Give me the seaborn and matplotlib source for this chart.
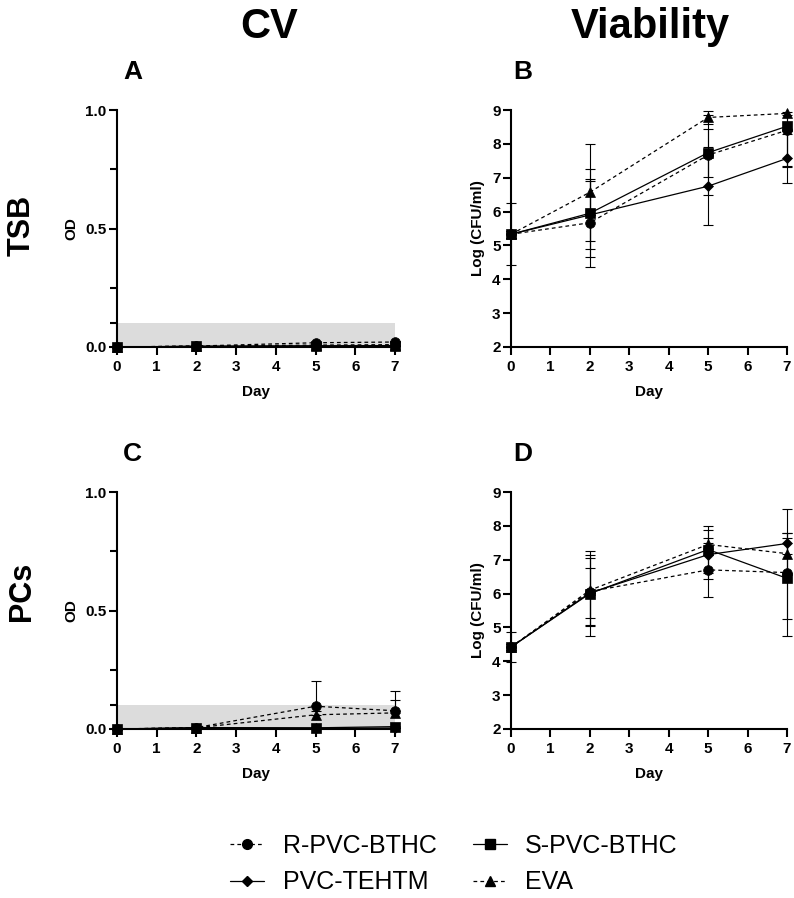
import numpy as np
import pandas as pd
import matplotlib.pyplot as plt
import matplotlib.ticker as plticker
from matplotlib.lines import Line2D
from matplotlib.patches import Rectangle
import seaborn as sns

days = [0, 2, 5, 7]
materials = ["R-PVC-BTHC", "S-PVC-BTHC", "PVC-TEHTM", "EVA"]

# A: TSB, crystal violet (OD)
tsb_cv_mean = {"R-PVC-BTHC": [0.0, 0.004, 0.018, 0.021],
               "S-PVC-BTHC": [0.0, 0.003, 0.004, 0.004],
               "PVC-TEHTM": [0.0, 0.003, 0.005, 0.006],
               "EVA": [0.0, 0.004, 0.008, 0.010]}
tsb_cv_sd = {"R-PVC-BTHC": [0.0, 0.002, 0.004, 0.005],
             "S-PVC-BTHC": [0.0, 0.002, 0.002, 0.002],
             "PVC-TEHTM": [0.0, 0.002, 0.002, 0.002],
             "EVA": [0.0, 0.002, 0.003, 0.003]}

# B: TSB, viability log(CFU/ml)
tsb_via_mean = {"R-PVC-BTHC": [5.33, 5.67, 7.67, 8.40],
                "S-PVC-BTHC": [5.33, 5.95, 7.74, 8.52],
                "PVC-TEHTM": [5.33, 5.90, 6.75, 7.57],
                "EVA": [5.33, 6.57, 8.78, 8.90]}
tsb_via_sd = {"R-PVC-BTHC": [0.10, 1.30, 1.17, 1.05],
              "S-PVC-BTHC": [0.92, 1.30, 0.71, 1.20],
              "PVC-TEHTM": [0.10, 1.00, 1.15, 0.72],
              "EVA": [0.10, 1.43, 0.20, 0.05]}

# C: PCs, crystal violet (OD)
pcs_cv_mean = {"R-PVC-BTHC": [0.0, 0.006, 0.096, 0.077],
               "S-PVC-BTHC": [0.0, 0.006, 0.005, 0.010],
               "PVC-TEHTM": [0.0, 0.004, 0.003, 0.004],
               "EVA": [0.0, 0.005, 0.060, 0.068]}
pcs_cv_sd = {"R-PVC-BTHC": [0.0, 0.003, 0.106, 0.083],
             "S-PVC-BTHC": [0.0, 0.002, 0.003, 0.004],
             "PVC-TEHTM": [0.0, 0.002, 0.002, 0.002],
             "EVA": [0.0, 0.002, 0.015, 0.055]}

# D: PCs, viability log(CFU/ml)
pcs_via_mean = {"R-PVC-BTHC": [4.42, 6.06, 6.70, 6.62],
                "S-PVC-BTHC": [4.42, 6.00, 7.30, 6.45],
                "PVC-TEHTM": [4.42, 6.02, 7.15, 7.48],
                "EVA": [4.42, 6.10, 7.45, 7.18]}
pcs_via_sd = {"R-PVC-BTHC": [0.10, 1.00, 0.80, 1.88],
              "S-PVC-BTHC": [0.44, 1.25, 0.70, 1.20],
              "PVC-TEHTM": [0.10, 0.75, 0.72, 0.32],
              "EVA": [0.10, 1.05, 0.20, 0.62]}

panels = {"A": (tsb_cv_mean, tsb_cv_sd), "B": (tsb_via_mean, tsb_via_sd),
          "C": (pcs_cv_mean, pcs_cv_sd), "D": (pcs_via_mean, pcs_via_sd)}

rows = []
for panel, (means, sds) in panels.items():
    for mat in materials:
        for d, m, s in zip(days, means[mat], sds[mat]):
            rows.append({"panel": panel, "material": mat, "day": d, "mean": m, "sd": s})
df = pd.DataFrame(rows)

dashed = (0, (3, 2.5))
styles = {
    "R-PVC-BTHC": dict(marker="o", markersize=7, linestyle=dashed),
    "S-PVC-BTHC": dict(marker="s", markersize=7, linestyle="-"),
    "PVC-TEHTM": dict(marker="D", markersize=5.5, linestyle="-"),
    "EVA": dict(marker="^", markersize=7, linestyle=dashed),
}

sns.set_theme(style="ticks")
plt.rcParams["font.family"] = ["Liberation Sans", "DejaVu Sans"]
plt.rcParams["font.weight"] = "bold"
plt.rcParams["axes.labelweight"] = "bold"
for key in ["text.color", "axes.labelcolor", "xtick.color", "ytick.color", "axes.edgecolor"]:
    plt.rcParams[key] = "black"

fig = plt.figure(figsize=(7.94, 8.98), dpi=100)

W, H = 794, 898


def add_ax(left, right, top, bottom):
    return fig.add_axes([left / W, 1 - bottom / H, (right - left) / W, (bottom - top) / H])


def plot_panel(ax, panel, is_cv):
    data = df[df["panel"] == panel]
    if is_cv:
        ax.axhspan(0, 0.1, color="#dcdcdc", lw=0, zorder=0)
    # error bars may poke out sideways at day 0 / 7, but not above the top
    clip = Rectangle((-0.1, -0.1), 1.2, 1.1, transform=ax.transAxes, visible=False)
    ax.add_patch(clip)
    for mat in materials:
        sub = data[data["material"] == mat]
        yerr = [np.zeros(len(sub)), sub["sd"].values] if is_cv else sub["sd"].values
        eb = ax.errorbar(sub["day"], sub["mean"], yerr=yerr, fmt="none", ecolor="black",
                         elinewidth=0.8, capsize=3.6, capthick=0.8, zorder=2)
        for art in eb.get_children():
            art.set_clip_path(clip)
        sns.lineplot(data=sub, x="day", y="mean", ax=ax, color="black", lw=0.9,
                     markeredgecolor="black", markeredgewidth=0.5, legend=False,
                     clip_on=False, zorder=3, **styles[mat])

    ax.set_xlim(0, 7)
    ax.set_xticks(range(8))
    if is_cv:
        ax.set_ylim(0, 1)
        ax.set_yticks([0, 0.5, 1.0])
        ax.yaxis.set_major_formatter(plticker.FormatStrFormatter("%.1f"))
        ax.yaxis.set_minor_locator(plticker.FixedLocator([0.1, 0.25, 0.75]))
        ax.set_ylabel("OD", fontsize=11, labelpad=5)
    else:
        ax.set_ylim(2, 9)
        ax.set_yticks(range(2, 10))
        ax.set_ylabel("Log (CFU/ml)", fontsize=11, labelpad=5)
    ax.set_xlabel("Day", fontsize=11, labelpad=8)
    for side in ["top", "right"]:
        ax.spines[side].set_visible(False)
    for side in ["left", "bottom"]:
        ax.spines[side].set_linewidth(1.5)
        ax.spines[side].set_color("black")
    ax.tick_params(which="major", width=1.5, length=5.5, labelsize=11, pad=2, color="black")
    ax.tick_params(axis="x", which="major", pad=4)
    ax.tick_params(which="minor", width=1.5, length=5, color="black")
    for lbl in ax.get_xticklabels() + ax.get_yticklabels():
        lbl.set_fontweight("bold")


axA = add_ax(117, 395, 110, 347)
axB = add_ax(511, 787, 110, 347)
axC = add_ax(117, 395, 492, 729)
axD = add_ax(511, 787, 492, 729)

plot_panel(axA, "A", True)
plot_panel(axB, "B", False)
plot_panel(axC, "C", True)
plot_panel(axD, "D", False)

# panel letters
for txt, x, y in [("A", 123, 72), ("B", 513, 72), ("C", 123, 454), ("D", 513, 454)]:
    fig.text(x / W, 1 - y / H, txt, fontsize=19, fontweight="bold", ha="left", va="center")

# column titles
fig.text(269 / W, 1 - 38 / H, "CV", fontsize=30, fontweight="bold",
         ha="center", va="baseline")
fig.text(650 / W, 1 - 38 / H, "Viability", fontsize=30, fontweight="bold",
         ha="center", va="baseline")

# row labels
fig.text(22 / W, 1 - 225 / H, "TSB", fontsize=22, fontweight="bold", rotation=90,
         ha="center", va="center")
fig.text(22 / W, 1 - 591 / H, "PCs", fontsize=22, fontweight="bold", rotation=90,
         ha="center", va="center")

legend_order = ["R-PVC-BTHC", "PVC-TEHTM", "S-PVC-BTHC", "EVA"]
handles = [Line2D([], [], color="black", lw=0.9, markeredgecolor="black", **styles[m])
           for m in legend_order]
fig.legend(handles, legend_order, loc="center", bbox_to_anchor=(454 / W, 1 - 864 / H),
           ncol=2, frameon=False, handlelength=1.35, handletextpad=0.75, columnspacing=1.45,
           prop={"family": "Liberation Sans", "size": 18, "weight": "normal"})

fig.savefig("out.png", dpi=100)
